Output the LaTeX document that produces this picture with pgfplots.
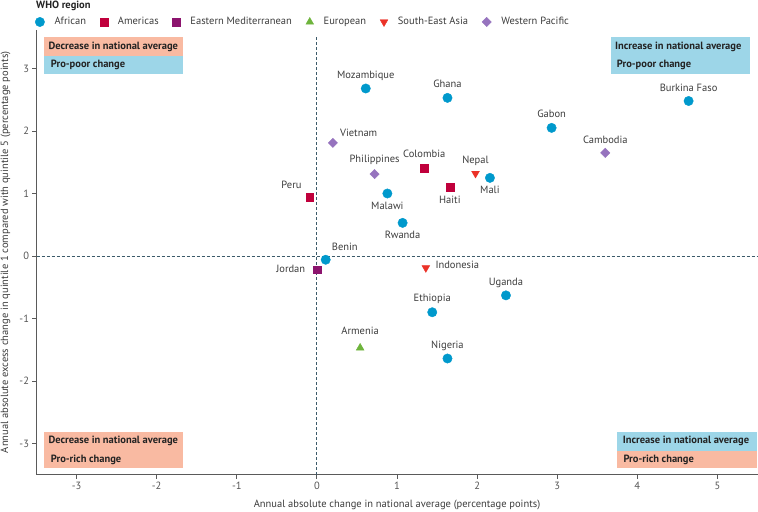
\documentclass[border=0pt]{standalone}
\usepackage{fontspec}
\setmainfont{PT Sans}
\usepackage{pgfplots}
\pgfplotsset{compat=1.18}

\definecolor{african}{RGB}{0,153,204}
\definecolor{americas}{RGB}{192,0,60}
\definecolor{emed}{RGB}{140,20,110}
\definecolor{european}{RGB}{110,180,60}
\definecolor{sea}{RGB}{235,50,40}
\definecolor{wpac}{RGB}{150,115,190}
\definecolor{boxsalmon}{RGB}{249,186,162}
\definecolor{boxblue}{RGB}{157,214,232}
\definecolor{zeroline}{RGB}{60,90,105}
\definecolor{axisgray}{RGB}{90,90,90}
\definecolor{tickgray}{RGB}{85,85,85}
\definecolor{labelgray}{RGB}{60,60,60}
\definecolor{boxtext}{RGB}{35,35,35}

\newcommand\fs{\fontsize{10.5bp}{12bp}\selectfont}

\pgfplotsset{
  legimg/.style={legend image code/.code={\draw[##1] plot coordinates {(0bp,0bp)};}},
}
\tikzset{
  lbl/.style={font=\fs, text=labelgray, inner sep=0pt, text height=7.5bp, text depth=2bp},
  boxlbl/.style={anchor=west, inner sep=0pt, font=\fs\bfseries, text=boxtext},
}

\begin{document}
\begin{tikzpicture}
\begin{axis}[
  at={(36.5bp,37.25bp)}, anchor=south west,
  scale only axis, width=721bp, height=445bp,
  xmin=-3.5, xmax=5.5, ymin=-3.5, ymax=3.62,
  axis lines=left, axis line style={-, draw=axisgray, line width=1.1bp},
  xtick={-3,...,5}, ytick={-3,...,3},
  tick align=outside, major tick length=4bp,
  tick style={draw=axisgray, line width=0.8bp},
  ticklabel style={font=\fs, text=tickgray},
  /pgf/number format/assume math mode=true,
  xlabel={Annual absolute change in national average (percentage points)},
  ylabel={Annual absolute excess change in quintile 1 compared with quintile 5 (percentage points)},
  label style={font=\fs, text=labelgray},
  xlabel style={at={(axis description cs:0.5,-0.0674)}, anchor=center},
  ylabel style={at={(axis description cs:-0.043,0.5)}, anchor=center},
  clip=false,
  legend columns=6,
  legend cell align=left,
  legend style={draw=none, fill=none, inner sep=0pt,
    at={(axis description cs:0,1)}, anchor=west, xshift=-1.5bp, yshift=7.75bp,
    font=\fs, text=labelgray,
    /tikz/every odd column/.append style={column sep=8bp},
    /tikz/every even column/.append style={column sep=12bp}},
]
% quadrant lines
\draw[zeroline, line width=0.8bp, dash pattern=on 3bp off 2bp] (axis cs:0,-3.5) -- (axis cs:0,3.5);
\draw[zeroline, line width=0.8bp, dash pattern=on 3bp off 2bp] (axis cs:-3.5,0) -- (axis cs:5.5,0);

\addplot[only marks, mark=*, mark size=4.7bp, color=african, legimg] coordinates {
  (4.64,2.48) (0.61,2.68) (1.63,2.53) (2.93,2.05) (2.16,1.25) (0.88,1.00)
  (1.07,0.53) (0.11,-0.06) (2.36,-0.63) (1.44,-0.90) (1.63,-1.64)};
\addlegendentry{African}
\addplot[only marks, mark=square*, mark size=3.9bp, color=americas, legimg] coordinates {
  (1.34,1.41) (1.66,1.10) (-0.09,0.94)};
\addlegendentry{Americas}
\addplot[only marks, mark=square*, mark size=3.9bp, color=emed, legimg] coordinates {
  (0.00,-0.22)};
\addlegendentry{Eastern Mediterranean}
\addplot[only marks, mark=triangle*, mark size=4.5bp, color=european, legimg] coordinates {
  (0.54,-1.47)};
\addlegendentry{European}
\addplot[only marks, mark=triangle*, mark size=4.5bp, mark options={rotate=180}, color=sea, legimg] coordinates {
  (1.98,1.32) (1.36,-0.19)};
\addlegendentry{South-East Asia}
\addplot[only marks, mark=square*, mark size=3.3bp, mark options={rotate=45}, color=wpac, legimg] coordinates {
  (0.20,1.81) (0.72,1.31) (3.60,1.65)};
\addlegendentry{Western Pacific}

% point labels
\node[lbl, yshift=12bp] at (axis cs:4.64,2.48) {Burkina Faso};
\node[lbl, yshift=13bp] at (axis cs:0.61,2.68) {Mozambique};
\node[lbl, yshift=13bp] at (axis cs:1.63,2.53) {Ghana};
\node[lbl, yshift=13bp] at (axis cs:2.93,2.05) {Gabon};
\node[lbl, yshift=12bp] at (axis cs:3.60,1.65) {Cambodia};
\node[lbl, anchor=west, xshift=7bp, yshift=9.5bp] at (axis cs:0.20,1.81) {Vietnam};
\node[lbl, yshift=14bp] at (axis cs:0.72,1.31) {Philippines};
\node[lbl, yshift=13bp] at (axis cs:1.34,1.41) {Colombia};
\node[lbl, yshift=13bp] at (axis cs:1.98,1.32) {Nepal};
\node[lbl, yshift=-12.5bp] at (axis cs:2.16,1.25) {Mali};
\node[lbl, yshift=-13.5bp] at (axis cs:1.66,1.10) {Haiti};
\node[lbl, anchor=east, xshift=-8bp, yshift=11bp] at (axis cs:-0.09,0.94) {Peru};
\node[lbl, yshift=-13bp] at (axis cs:0.88,1.00) {Malawi};
\node[lbl, yshift=-13bp] at (axis cs:1.07,0.53) {Rwanda};
\node[lbl, anchor=west, xshift=6bp, yshift=11.5bp] at (axis cs:0.11,-0.06) {Benin};
\node[lbl, anchor=east, xshift=-11.5bp] at (axis cs:0.00,-0.22) {Jordan};
\node[lbl, anchor=west, xshift=9.5bp, yshift=2.5bp] at (axis cs:1.36,-0.19) {Indonesia};
\node[lbl, yshift=13bp] at (axis cs:2.36,-0.63) {Uganda};
\node[lbl, yshift=13bp] at (axis cs:1.44,-0.90) {Ethiopia};
\node[lbl, yshift=16bp] at (axis cs:0.54,-1.47) {Armenia};
\node[lbl, yshift=13bp] at (axis cs:1.63,-1.64) {Nigeria};
\end{axis}

% legend title
\node[boxlbl] at (36bp,506.5bp) {WHO region};

% quadrant boxes
\fill[boxsalmon] (44bp,456bp) rectangle (183bp,475bp);
\fill[boxblue] (44bp,438bp) rectangle (183bp,456bp);
\node[boxlbl] at (48.3bp,465.5bp) {Decrease in national average};
\node[boxlbl] at (50.7bp,447bp) {Pro-poor change};

\fill[boxblue] (610.7bp,438bp) rectangle (750bp,475bp);
\node[boxlbl] at (615bp,465.5bp) {Increase in national average};
\node[boxlbl] at (616.7bp,447bp) {Pro-poor change};

\fill[boxsalmon] (44bp,44bp) rectangle (183bp,80bp);
\node[boxlbl] at (48.3bp,71.3bp) {Decrease in national average};
\node[boxlbl] at (50.7bp,52bp) {Pro-rich change};

\fill[boxblue] (617.3bp,61bp) rectangle (757bp,80bp);
\fill[boxsalmon] (617.3bp,44bp) rectangle (757bp,61bp);
\node[boxlbl] at (622.7bp,71.3bp) {Increase in national average};
\node[boxlbl] at (623.3bp,52bp) {Pro-rich change};

\pgfresetboundingbox
\path (0bp,0bp) rectangle (758bp,512bp);
\end{tikzpicture}
\end{document}
